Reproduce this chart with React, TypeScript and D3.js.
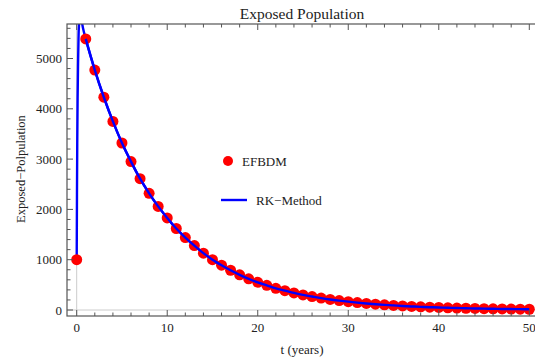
import React from "react";
import * as d3 from "d3";

const tYears = d3.range(0, 51);
const efbdm = [
  1000, 5390, 4770, 4230, 3750, 3320, 2950, 2610, 2320, 2060, 1830,
  1620, 1440, 1280, 1130, 1000, 890, 790, 700, 620, 550,
  490, 430, 385, 340, 300, 268, 237, 210, 187, 166,
  147, 130, 115, 102, 91, 80, 71, 63, 56, 50,
  44, 39, 35, 31, 27, 24, 21, 19, 17, 15,
];
const rkEarlyT = [0, 0.03, 0.06, 0.1, 0.15, 0.2, 0.3, 0.4, 0.5, 0.7];
const rkEarlyV = [1000, 2300, 3300, 4200, 4900, 5400, 5800, 5900, 5800, 5600];
const xTicks = [0, 10, 20, 30, 40, 50];
const yTicks = [0, 1000, 2000, 3000, 4000, 5000];

const W = 535, H = 362;
const L = 67, T = 24, B = 316;
const x = d3.scaleLinear().domain([0, 50]).range([76.7, 529.3]);
const y = d3.scaleLinear().domain([0, 5000]).range([310, 58.5]);
const R = x(51.07);

export default function App() {
  const rk: [number, number][] = [
    ...rkEarlyT.map((t, i) => [t, rkEarlyV[i]] as [number, number]),
    ...tYears.slice(1).map((t, i) => [t, efbdm[i + 1]] as [number, number]),
  ];
  const line = d3
    .line<[number, number]>()
    .x((d) => x(d[0]))
    .y((d) => y(d[1]))
    .curve(d3.curveMonotoneX);
  const font = "'Liberation Serif', 'Times New Roman', serif";
  const frame = "#555";
  const xMinor = d3.range(-0, 52, 2).filter((v) => v % 10 !== 0);
  const yMinor = d3.range(0, 5700, 200).filter((v) => v % 1000 !== 0);
  return (
    <svg width={W} height={H} style={{ position: "absolute", left: 0, top: 0 }} fontFamily={font}>
      <rect width={W} height={H} fill="white" />
      <defs>
        <clipPath id="clip">
          <rect x={L} y={T} width={R - L} height={B - T} />
        </clipPath>
      </defs>
      <text x={302} y={19} textAnchor="middle" fontSize={15.5} fill="#222">Exposed Population</text>
      <text x={302} y={354} textAnchor="middle" fontSize={13} fill="#222">t (years)</text>
      <text transform={`translate(24.5,169) rotate(-90)`} textAnchor="middle" fontSize={12.5} fill="#222">
        Exposed−Polpulation
      </text>
      {/* axes lines */}
      <line x1={L} x2={R} y1={y(0)} y2={y(0)} stroke="#ccc" strokeWidth={1} />
      <line x1={x(0)} x2={x(0)} y1={T} y2={B} stroke="#ccc" strokeWidth={1} />
      <g clipPath="url(#clip)">
        <path d={line(rk) || ""} fill="none" stroke="#0000ff" strokeWidth={2.4} />
        {tYears.map((t, i) => (
          <circle key={t} cx={x(t)} cy={y(efbdm[i])} r={5.5} fill="#ff0000" />
        ))}
        <path d={line(tYears.slice(1).map((t, i) => [t, efbdm[i + 1]] as [number, number])) || ""} fill="none" stroke="#0000ff" strokeWidth={2.4} />
      </g>
      {/* frame */}
      <rect x={L} y={T} width={R - L} height={B - T} fill="none" stroke={frame} strokeWidth={1.2} />
      {xTicks.map((v) => (
        <g key={"xt" + v}>
          <line x1={x(v)} x2={x(v)} y1={B} y2={B - 6} stroke={frame} />
          <line x1={x(v)} x2={x(v)} y1={T} y2={T + 6} stroke={frame} />
          <text x={x(v)} y={332} textAnchor="middle" fontSize={13} fill="#222">{v}</text>
        </g>
      ))}
      {xMinor.map((v) => (
        <g key={"xm" + v}>
          <line x1={x(v)} x2={x(v)} y1={B} y2={B - 3.5} stroke={frame} />
          <line x1={x(v)} x2={x(v)} y1={T} y2={T + 3.5} stroke={frame} />
        </g>
      ))}
      {yTicks.map((v) => (
        <g key={"yt" + v}>
          <line x1={L} x2={L + 6} y1={y(v)} y2={y(v)} stroke={frame} />
          <text x={62} y={y(v) + 4.5} textAnchor="end" fontSize={13} fill="#222">{v}</text>
        </g>
      ))}
      {yMinor.map((v) => (
        <line key={"ym" + v} x1={L} x2={L + 3.5} y1={y(v)} y2={y(v)} stroke={frame} />
      ))}
      {/* legend */}
      <circle cx={228} cy={161} r={5} fill="#ff0000" />
      <text x={242} y={165.5} fontSize={13} fill="#222">EFBDM</text>
      <line x1={221} x2={247} y1={200} y2={200} stroke="#0000ff" strokeWidth={2.4} />
      <text x={256} y={205} fontSize={13} fill="#222">RK−Method</text>
    </svg>
  );
}
